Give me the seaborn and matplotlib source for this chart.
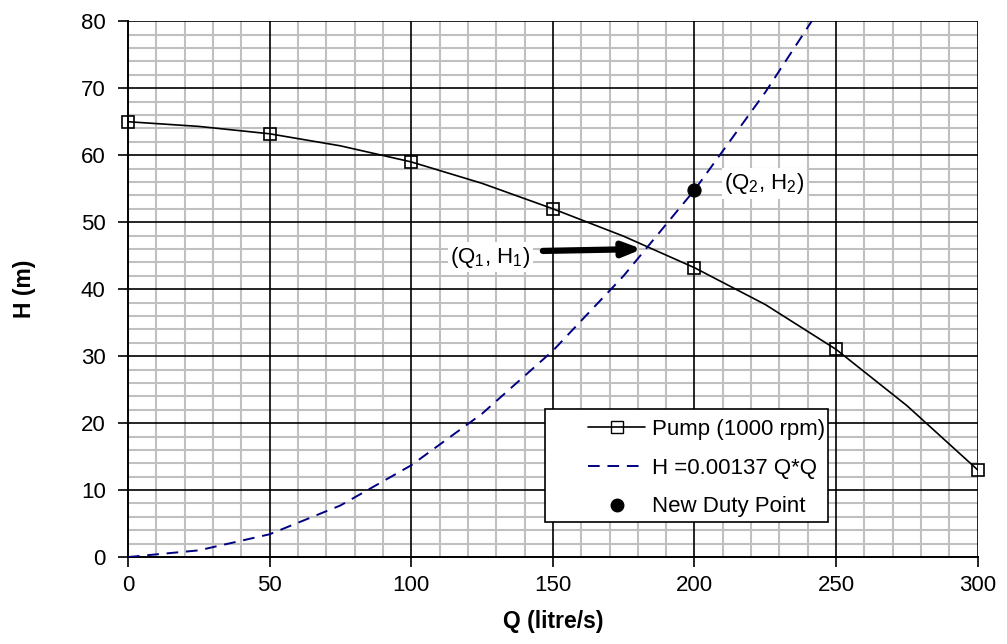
import matplotlib
matplotlib.use("Agg")
import matplotlib.pyplot as plt
from matplotlib.patches import Rectangle
import seaborn as sns
import pandas as pd

# pump test points (markers)
pump_q = [0, 50, 100, 150, 200, 250, 300]
pump_h = [65.0, 63.2, 59.0, 52.0, 43.2, 31.0, 13.0]

# pump curve
pump_line_q = [0, 25, 50, 75, 100, 125, 150, 175, 200, 225, 250, 275, 300]
pump_line_h = [65.0, 64.3, 63.2, 61.4, 59.0, 55.8, 52.0, 47.9, 43.2, 37.7, 31.0, 22.6, 13.0]

# system curve H = 0.00137 Q*Q
sys_q = [0, 25, 50, 75, 100, 125, 150, 175, 200, 225, 250]
sys_h = [0.0, 1.0, 3.4, 7.7, 13.7, 21.4, 30.8, 42.0, 54.8, 69.4, 85.6]

duty_q = [200]
duty_h = [54.8]

x_major = list(range(0, 301, 50))
y_major = list(range(0, 81, 10))

sns.set_theme(style="white")
plt.rcParams["font.family"] = ["Liberation Sans", "DejaVu Sans"]
plt.rcParams["mathtext.fontset"] = "custom"
plt.rcParams["mathtext.rm"] = "Liberation Sans"
plt.rcParams["text.color"] = "black"
plt.rcParams["axes.labelcolor"] = "black"
plt.rcParams["xtick.color"] = "black"
plt.rcParams["ytick.color"] = "black"

fig = plt.figure(figsize=(10.07, 6.44), dpi=100)
ax = fig.add_axes([0.127, 0.135, 0.844, 0.832])

pump_df = pd.DataFrame({"Q": pump_q, "H": pump_h})
pump_line_df = pd.DataFrame({"Q": pump_line_q, "H": pump_line_h})
sys_df = pd.DataFrame({"Q": sys_q, "H": sys_h})
duty_df = pd.DataFrame({"Q": duty_q, "H": duty_h})

sns.lineplot(data=pump_line_df, x="Q", y="H", color="black", lw=1.2, ax=ax, zorder=4)
sns.lineplot(data=sys_df, x="Q", y="H", color="#000080", lw=1.4, ax=ax, zorder=4,
             linestyle=(0, (6, 4)))
ax.plot(pump_df["Q"], pump_df["H"], linestyle="none", marker="s", ms=9,
        mfc="none", mec="black", mew=1.2, zorder=5, clip_on=False)
sns.scatterplot(data=duty_df, x="Q", y="H", color="black", s=90, ax=ax, zorder=6,
                edgecolor="black")

ax.set_xlim(0, 300)
ax.set_ylim(0, 80)
ax.set_xticks(x_major)
ax.set_yticks(y_major)
ax.set_xticks(range(0, 301, 10), minor=True)
ax.set_yticks(range(0, 81, 2), minor=True)
ax.grid(which="minor", color="#c0c0c0", lw=1.5)
ax.grid(which="major", visible=False)
ax.set_axisbelow(True)
# major grid drawn above the minor one
for xv in x_major[1:]:
    ax.axvline(xv, color="black", lw=1.2, zorder=1.5)
for yv in y_major[1:]:
    ax.axhline(yv, color="black", lw=1.2, zorder=1.5)
for side in ["top", "right"]:
    ax.spines[side].set_visible(False)
for side in ["left", "bottom"]:
    ax.spines[side].set_color("black")
    ax.spines[side].set_linewidth(1.4)
ax.tick_params(which="major", direction="out", length=7, width=1.2, color="black",
               labelcolor="black", labelsize=16, left=True, bottom=True, pad=6)
ax.tick_params(axis="y", pad=9)
ax.tick_params(which="minor", length=0)

ax.set_xlabel("Q (litre/s)", fontsize=16.5, fontweight="bold", labelpad=10)
ax.set_ylabel("H (m)", fontsize=16.5, fontweight="bold", labelpad=32)

ax.annotate("", xy=(182.5, 46.0), xytext=(145.5, 45.7),
            arrowprops=dict(arrowstyle="-|>,head_length=0.9,head_width=0.35",
                            color="black", lw=4.5), zorder=7)
ax.text(128, 44.8, r"(Q$_\mathregular{1}$, H$_\mathregular{1}$)", fontsize=16,
        ha="center", va="center", zorder=8,
        bbox=dict(facecolor="white", edgecolor="none", pad=2))
ax.text(210.5, 55.8, r"(Q$_\mathregular{2}$, H$_\mathregular{2}$)", fontsize=16,
        ha="left", va="center", zorder=8,
        bbox=dict(facecolor="white", edgecolor="none", pad=2))

# legend frame
ax.add_patch(Rectangle((0.4906, 0.0653), 0.333, 0.2107, transform=ax.transAxes,
                       facecolor="white", edgecolor="black", lw=1.2, zorder=9))
handles = [
    plt.Line2D([], [], color="black", lw=1.2, marker="s", ms=8, mfc="none", mec="black"),
    plt.Line2D([], [], color="#000080", lw=1.4, linestyle=(0, (6, 4))),
    plt.Line2D([], [], color="black", lw=0, marker="o", ms=9),
]
labels = ["Pump (1000 rpm)", "H =0.00137 Q*Q", "New Duty Point"]
leg = ax.legend(handles, labels, loc="center left", bbox_to_anchor=(0.541, 0.166),
                fontsize=16, frameon=False, borderaxespad=0, borderpad=0,
                handlelength=2.6, handletextpad=0.3, labelspacing=0.8)
leg.set_zorder(10)
for text in leg.get_texts():
    text.set_color("black")

fig.savefig("out.png", dpi=100)
plt.close(fig)
